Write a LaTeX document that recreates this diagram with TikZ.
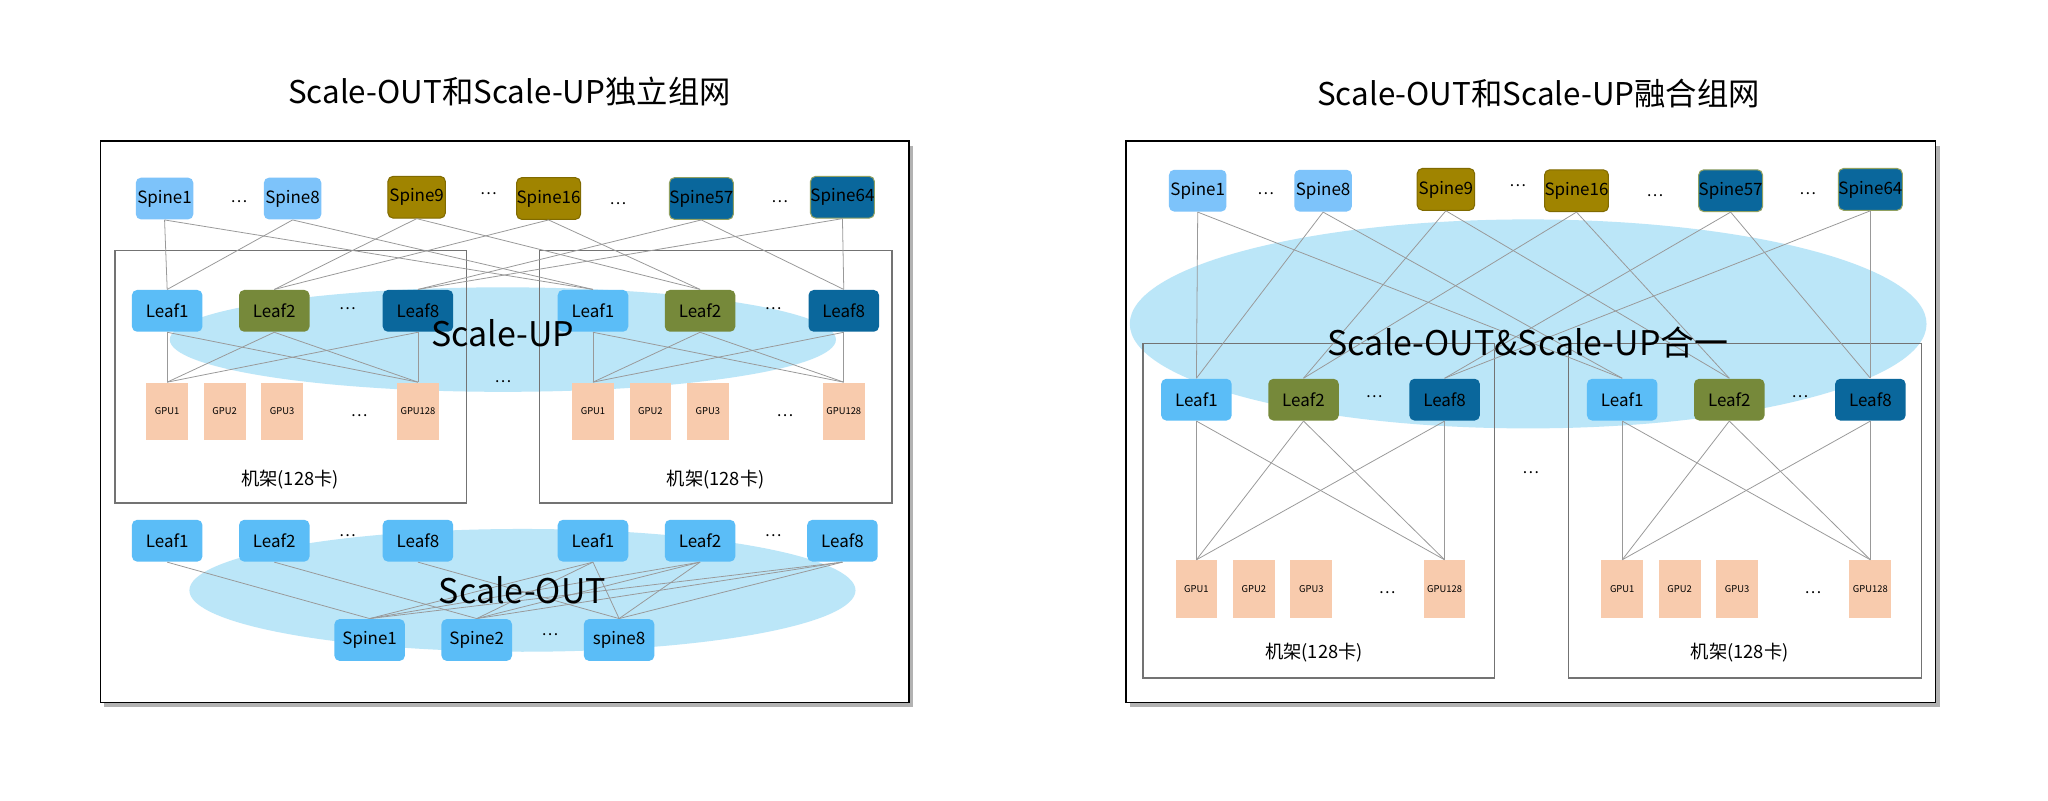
\documentclass[tikz,border=0pt]{standalone}
\usepackage{fontspec}
\setmainfont{Noto Sans CJK SC}
\usetikzlibrary{positioning}
\definecolor{skyblue}{HTML}{7DC3FA}
\definecolor{leafblue}{HTML}{5BBDF7}
\definecolor{olive}{HTML}{A08400}
\definecolor{moss}{HTML}{76893A}
\definecolor{deepblue}{HTML}{0A679C}
\definecolor{cloud}{HTML}{BBE6F8}
\definecolor{peach}{HTML}{F8CBAD}
\tikzset{
  sw/.style={rounded corners=2pt, minimum width=22pt, minimum height=16pt, inner sep=0pt, font=\fontsize{6.5}{7}\selectfont},
  spn/.style={sw, fill=skyblue},
  lf/.style={sw, minimum width=27pt, fill=leafblue},
  ol/.style={sw, fill=olive, draw=olive!80!black},
  ms/.style={sw, minimum width=27pt, fill=moss},
  db/.style={sw, fill=deepblue, draw=moss!80},
  dbl/.style={sw, minimum width=27pt, fill=deepblue},
  gpu/.style={fill=peach, minimum width=16pt, minimum height=22pt, inner sep=0pt, font=\fontsize{3.6}{4}\selectfont},
  dots/.style={font=\fontsize{6}{7}\selectfont},
  wire/.style={draw=gray!80, line width=0.3pt},
  rack/.style={draw=gray!90!black, line width=0.5pt},
  cloudy/.style={fill=cloud},
  big/.style={font=\fontsize{13}{14}\selectfont},
  ttl/.style={font=\fontsize{12}{13}\selectfont},
  rl/.style={font=\fontsize{7}{8}\selectfont}
}
\begin{document}
\begin{tikzpicture}[x=0.5pt,y=-0.5pt]
\useasboundingbox (0,0) rectangle (1568,613);
% panels
\fill[gray!60] (80,112) rectangle (699,541);
\draw[fill=white, line width=0.6pt] (77,108) rectangle (696,538);
\fill[gray!60] (865,112) rectangle (1485,541);
\draw[fill=white, line width=0.6pt] (862,108) rectangle (1482,538);
\node[ttl] at (390,70) {Scale-OUT和Scale-UP独立组网};
\node[ttl] at (1178,72) {Scale-OUT和Scale-UP融合组网};
% clouds behind everything
\fill[cloudy] (385,260) ellipse [x radius=255, y radius=40];
\fill[cloudy] (400,452) ellipse [x radius=255, y radius=47];
\fill[cloudy] (1170,248) ellipse [x radius=305, y radius=80];

%%%% left: separate networks
\draw[rack] (88,192) rectangle (357,385);
\draw[rack] (413,192) rectangle (683,385);
\node[spn] (s1) at (126,152) {Spine1};
\node[spn] (s8) at (224,152) {Spine8};
\node[ol] (s9) at (319,151) {Spine9};
\node[ol] (s16) at (420,152) {Spine16};
\node[db] (s57) at (537,152) {Spine57};
\node[db] (s64) at (645,151) {Spine64};
\node[dots] at (183,154) {\dots};
\node[dots] at (374,148) {\dots};
\node[dots] at (473,156) {\dots};
\node[dots] at (597,154) {\dots};
\foreach \r/\x in {a/0,b/326}{
  \node[lf] (\r1) at (128+\x,238) {Leaf1};
  \node[ms] (\r2) at (210+\x,238) {Leaf2};
  \node[dbl] (\r8) at (320+\x,238) {Leaf8};
  \node[dots] at (266+\x,236) {\dots};
  \node[gpu] (\r g1) at (128+\x,315) {GPU1};
  \node[gpu] (\r g2) at (172+\x,315) {GPU2};
  \node[gpu] (\r g3) at (216+\x,315) {GPU3};
  \node[dots] at (275+\x,318) {\dots};
  \node[gpu] (\r g128) at (320+\x,315) {GPU128};
  \node[rl] at (222+\x,367) {机架(128卡)};
  \foreach \l in {1,2,8}{
    \draw[wire] (\r\l.south) -- (\r g1.north);
    \draw[wire] (\r\l.south) -- (\r g128.north);
  }
}
\foreach \s/\l in {s1/1,s8/1,s9/2,s16/2,s57/8,s64/8}{
  \draw[wire] (\s.south) -- (a\l.north);
  \draw[wire] (\s.south) -- (b\l.north);
}
\node[dots] at (385,292) {\dots};
\node[big] at (385,255) {Scale-UP};
% scale-out
\node[lf] (o1) at (128,414) {Leaf1};
\node[lf] (o2) at (210,414) {Leaf2};
\node[lf] (o8) at (320,414) {Leaf8};
\node[lf] (p1) at (454,414) {Leaf1};
\node[lf] (p2) at (536,414) {Leaf2};
\node[lf] (p8) at (645,414) {Leaf8};
\node[dots] at (266,410) {\dots};
\node[dots] at (592,410) {\dots};
\node[lf] (t1) at (283,490) {Spine1};
\node[lf] (t2) at (365,490) {Spine2};
\node[lf] (t8) at (474,490) {spine8};
\node[dots] at (421,486) {\dots};
\draw[wire] (o1.south) -- (t1.north);
\draw[wire] (o2.south) -- (t2.north);
\draw[wire] (o8.south) -- (t8.north);
\foreach \l in {p1,p2,p8}
  \foreach \t in {t1,t2,t8}
    \draw[wire] (\l.south) -- (\t.north);
\node[big] at (400,452) {Scale-OUT};

%%%% right: merged network
\draw[rack] (875,263) rectangle (1144,519);
\draw[rack] (1201,263) rectangle (1471,519);
\node[spn] (m1) at (917,146) {Spine1};
\node[spn] (m8) at (1013,146) {Spine8};
\node[ol] (m9) at (1107,145) {Spine9};
\node[ol] (m16) at (1207,146) {Spine16};
\node[db] (m57) at (1325,146) {Spine57};
\node[db] (m64) at (1432,145) {Spine64};
\node[dots] at (969,148) {\dots};
\node[dots] at (1162,142) {\dots};
\node[dots] at (1267,150) {\dots};
\node[dots] at (1384,148) {\dots};
\foreach \r/\x in {c/0,d/326}{
  \node[lf] (\r1) at (916+\x,306) {Leaf1};
  \node[ms] (\r2) at (998+\x,306) {Leaf2};
  \node[dbl] (\r8) at (1106+\x,306) {Leaf8};
  \node[dots] at (1052+\x,304) {\dots};
  \node[gpu] (\r g1) at (916+\x,451) {GPU1};
  \node[gpu] (\r g2) at (960+\x,451) {GPU2};
  \node[gpu] (\r g3) at (1004+\x,451) {GPU3};
  \node[dots] at (1062+\x,454) {\dots};
  \node[gpu] (\r g128) at (1106+\x,451) {GPU128};
  \node[rl] at (1006+\x,500) {机架(128卡)};
  \foreach \l in {1,2,8}{
    \draw[wire] (\r\l.south) -- (\r g1.north);
    \draw[wire] (\r\l.south) -- (\r g128.north);
  }
}
\foreach \s/\l in {m1/1,m8/1,m9/2,m16/2,m57/8,m64/8}{
  \draw[wire] (\s.south) -- (c\l.north);
  \draw[wire] (\s.south) -- (d\l.north);
}
\node[dots] at (1172,362) {\dots};
\node[big] at (1170,262) {Scale-OUT\&Scale-UP合一};
\end{tikzpicture}
\end{document}
